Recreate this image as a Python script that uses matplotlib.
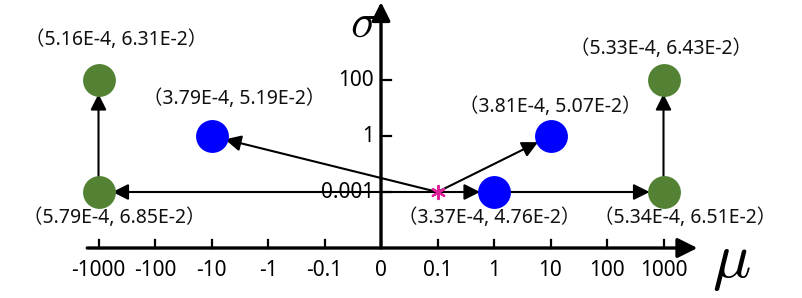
import matplotlib.pyplot as plt

# categorical tick labels on both axes
mu_ticks = ['-1000', '-100', '-10', '-1', '-0.1', '0', '0.1', '1', '10', '100', '1000']
sigma_ticks = ['0.001', '1', '100']

# points (mu, sigma) given by tick label
green_mu = ['-1000', '-1000', '1000', '1000']
green_sigma = ['100', '0.001', '100', '0.001']
green_text = ['（5.16E-4, 6.31E-2）', '（5.79E-4, 6.85E-2）',
              '（5.33E-4, 6.43E-2）', '（5.34E-4, 6.51E-2）']
blue_mu = ['-10', '1', '10']
blue_sigma = ['1', '0.001', '1']
blue_text = ['（3.79E-4, 5.19E-2）', '（3.37E-4, 4.76E-2）', '（3.81E-4, 5.07E-2）']
start_mu, start_sigma = '0.1', '0.001'

# arrows: (from, to) as (mu, sigma)
moves = [
    (('0.1', '0.001'), ('-1000', '0.001')),
    (('0.1', '0.001'), ('-10', '1')),
    (('0.1', '0.001'), ('10', '1')),
    (('0.1', '0.001'), ('1', '0.001')),
    (('1', '0.001'), ('1000', '0.001')),
    (('-1000', '0.001'), ('-1000', '100')),
    (('1000', '0.001'), ('1000', '100')),
]


def px(m):
    return mu_ticks.index(m) - 5


def py(s):
    return sigma_ticks.index(s) + 1


plt.rcParams['mathtext.fontset'] = 'cm'

fig = plt.figure(figsize=(8.02, 2.98), dpi=100)
ax = fig.add_axes([0, 0, 1, 1])
sx, sy = 56.5, 56.0
ax.set_xlim(-381 / sx, (802 - 381) / sx)
ax.set_ylim((248 - 298) / sy, 248 / sy)
ax.axis('off')

lab_font = ['Noto Sans', 'Noto Sans CJK SC', 'DejaVu Sans']

# axes with arrow heads
ax.annotate('', xy=(5.6, 0), xytext=(-5.2, 0),
            arrowprops=dict(arrowstyle='-|>', lw=2.4, color='black',
                            mutation_scale=30, shrinkA=0, shrinkB=0))
ax.annotate('', xy=(0, 4.39), xytext=(0, 0),
            arrowprops=dict(arrowstyle='-|>', lw=2.4, color='black',
                            mutation_scale=28, shrinkA=0, shrinkB=0))

for m in mu_ticks:
    ax.plot([px(m), px(m)], [0, 8 / sy], color='black', lw=1.6)
    ax.text(px(m), -23 / sy, m, ha='center', va='center', fontsize=15,
            family=lab_font)
for s in sigma_ticks:
    ax.plot([0, 10 / sx], [py(s), py(s)], color='black', lw=1.6)
    ax.text(-7 / sx, py(s), s, ha='right', va='center', fontsize=15,
            family=lab_font, zorder=6)

ax.text((364 - 381) / sx, (248 - 24) / sy, r'$\sigma$', fontsize=34,
        ha='center', va='center')
ax.text((731 - 381) / sx, (248 - 262) / sy, r'$\mu$', fontsize=46,
        ha='center', va='center')

# arrows between points
for (a, b) in moves:
    shrink_b = 10 if b != (start_mu, start_sigma) else 0
    shrink_a = 10 if a != (start_mu, start_sigma) else 0
    ax.annotate('', xy=(px(b[0]), py(b[1])), xytext=(px(a[0]), py(a[1])),
                arrowprops=dict(arrowstyle='-|>', lw=1.5, color='black',
                                mutation_scale=24, shrinkA=shrink_a,
                                shrinkB=shrink_b), zorder=3)

gx = [px(m) for m in green_mu]
gy = [py(s) for s in green_sigma]
bx = [px(m) for m in blue_mu]
by = [py(s) for s in blue_sigma]
ax.scatter(gx, gy, s=560, color='#548235', zorder=5, linewidths=0)
ax.scatter(bx, by, s=560, color='#0000ff', zorder=5, linewidths=0)
ax.scatter([px(start_mu)], [py(start_sigma)], marker=(6, 2, 0), s=90,
           color='#e0209a', zorder=6, linewidths=1.6)

green_off = [(18, 40), (16, -26), (-2, 31), (22, -26)]
blue_off = [(23, 37), (-5, -26), (0, 29)]
for x, y, t, o in zip(gx + bx, gy + by, green_text + blue_text, green_off + blue_off):
    ax.annotate(t, (x, y), xytext=o, textcoords='offset pixels', ha='center',
                va='center', fontsize=14, family=lab_font, color='#111111')

fig.savefig('out.png', dpi=100)
